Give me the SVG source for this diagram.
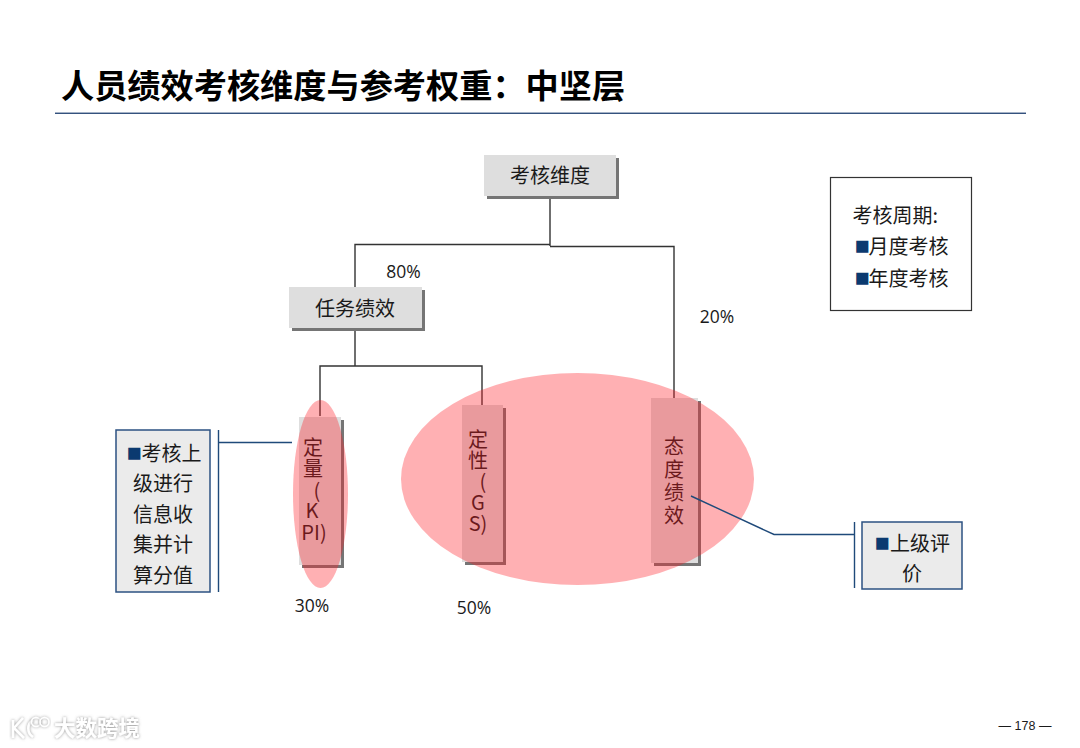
<svg xmlns="http://www.w3.org/2000/svg" width="1080" height="748" viewBox="0 0 1080 748">
<style>
text{font-family:"Noto Sans CJK SC","Noto Sans",sans-serif;fill:#1a1a1a;font-size:20px;text-anchor:middle}
.pct{font-family:"Open Sans","Noto Sans",sans-serif;font-size:17.500px}
.box{fill:#dedede}
.shadow{fill:#757575}
.note{fill:#ebebeb;stroke:#2c5282;stroke-width:1.5}
.conn{fill:none;stroke:#333;stroke-width:1.4}
.lead{fill:none;stroke:#1f4a7a;stroke-width:1.4}
.hl{fill:#ff1d25;fill-opacity:.35}
.s{text-anchor:start}
.b{fill:#0b3a70;font-family:"Liberation Sans",sans-serif;font-size:25px}
.wm{fill:#fff;filter:url(#glow)}
</style>
<defs>
<filter id="glow" x="-20%" y="-30%" width="140%" height="160%"><feDropShadow dx="0" dy="0" stdDeviation="1.400" flood-color="#777" flood-opacity=".8"/></filter>
</defs>
<rect width="1080" height="748" fill="#fff"/>
<g id="title">
<text x="61" y="98" style="text-anchor:start;font-size:33.200px;font-weight:700;fill:#000">人员绩效考核维度与参考权重：中坚层</text>
<rect x="55" y="112.600" width="971" height="1.300" fill="#1f4070"/>
</g>
<g id="connectors">
<path class="conn" d="M550 196V246M550 244.500H355V288M550 246.500H674V400M355 328V366M320 416V366H482V405"/>
</g>
<g id="node-kaohe">
<rect class="shadow" x="487" y="158" width="132" height="41"/><rect class="box" x="484" y="155" width="132" height="41"/>
<text x="550" y="182.500">考核维度</text>
</g>
<g id="node-renwu">
<rect class="shadow" x="292" y="290" width="133" height="41"/><rect class="box" x="289" y="287" width="133" height="41"/>
<text x="355" y="316">任务绩效</text>
</g>
<g id="node-kpi">
<rect class="shadow" x="302" y="420" width="42" height="148"/><rect class="box" x="299" y="417" width="42" height="148"/>
<text y="455"><tspan x="313">定</tspan><tspan x="313" dy="21">量</tspan><tspan x="317" dy="22">(</tspan><tspan x="312" dy="20">K</tspan><tspan x="314" dy="22">PI)</tspan></text>
</g>
<g id="node-gs">
<rect class="shadow" x="465" y="408" width="41" height="157"/><rect class="box" x="462" y="405" width="41" height="157"/>
<text y="447"><tspan x="478">定</tspan><tspan x="478" dy="21">性</tspan><tspan x="483" dy="21">(</tspan><tspan x="478" dy="21">G</tspan><tspan x="478" dy="21">S)</tspan></text>
</g>
<g id="node-taidu">
<rect class="shadow" x="654" y="401" width="47" height="165"/><rect class="box" x="651" y="398" width="47" height="165"/>
<text y="454"><tspan x="674">态</tspan><tspan x="674" dy="23">度</tspan><tspan x="674" dy="23">绩</tspan><tspan x="674" dy="23">效</tspan></text>
</g>
<g id="highlights">
<ellipse class="hl" cx="320.500" cy="494" rx="27.500" ry="94"/>
<ellipse class="hl" cx="577.500" cy="479" rx="176.500" ry="106"/>
</g>
<g id="leaders">
<path class="lead" d="M218.500 430V592M219 442.500H292"/>
<path class="lead" d="M691 496L774 534.500H854M854.500 522V588"/>
</g>
<g id="note-left">
<rect class="note" x="116" y="430" width="94" height="162"/>
<text class="s" y="461"><tspan class="b" x="126.500">■</tspan><tspan x="141.500">考核上</tspan></text>
<text x="163" y="491">级进行</text><text x="163" y="522">信息收</text><text x="163" y="552">集并计</text><text x="163" y="583">算分值</text>
</g>
<g id="note-right">
<rect class="note" x="862" y="522" width="100" height="67"/>
<text class="s" y="551"><tspan class="b" x="874.500">■</tspan><tspan x="890">上级评</tspan></text>
<text x="912" y="581">价</text>
</g>
<g id="period">
<rect x="830.500" y="177.500" width="141" height="133" fill="#fff" stroke="#333" stroke-width="1.200"/>
<text class="s" x="852.500" y="223">考核周期:</text>
<text class="s" y="254"><tspan class="b" x="854.500">■</tspan><tspan x="868.500">月度考核</tspan></text>
<text class="s" y="286"><tspan class="b" x="854.500">■</tspan><tspan x="868.500">年度考核</tspan></text>
</g>
<g id="percent-labels">
<text class="pct" x="403.500" y="278">80%</text>
<text class="pct" x="717" y="323">20%</text>
<text class="pct" x="312" y="612">30%</text>
<text class="pct" x="474" y="614">50%</text>
</g>
<g id="footer">
<text x="1025" y="730" style="font-family:'Liberation Sans',sans-serif;font-size:12.500px">— 178 —</text>
</g>
<g id="watermark">
<path d="M13 720V738M23 718Q15 727 14 728L24 738M33 720A10 10 0 0 0 33 737" fill="none" stroke="#fff" stroke-width="2.500" filter="url(#glow)"/>
<circle cx="36" cy="722" r="4.500" fill="none" stroke="#fff" stroke-width="1.500" filter="url(#glow)"/>
<circle cx="44.500" cy="722" r="4.500" fill="none" stroke="#fff" stroke-width="1.500" filter="url(#glow)"/>
<text class="wm" x="97" y="736" style="font-size:21.500px;font-weight:700;fill:#fff">大数跨境</text>
</g>
</svg>
